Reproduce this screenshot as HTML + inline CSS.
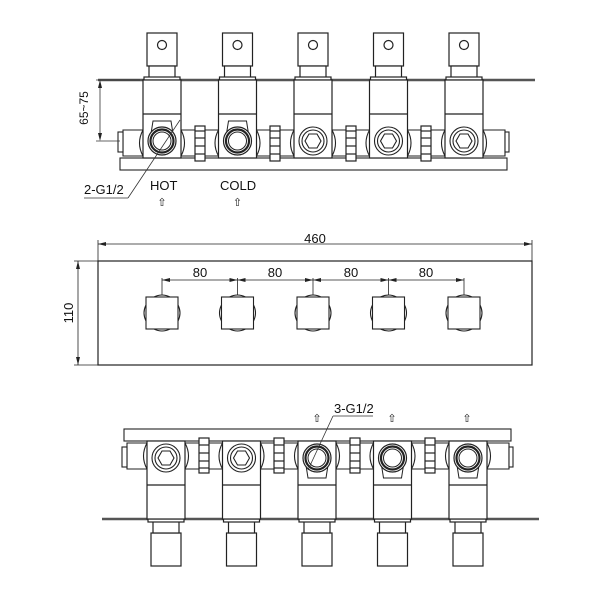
<!DOCTYPE html>
<html><head><meta charset="utf-8"><style>
body{margin:0;background:#fff}
svg{display:block}
text{font-family:"Liberation Sans",sans-serif;fill:#111}
</style></head><body>
<svg width="600" height="600" viewBox="0 0 600 600" xmlns="http://www.w3.org/2000/svg">
<defs>
<g id="valve" fill="#fff" stroke="#222" stroke-width="1.2">
  <rect x="-15" y="33" width="30" height="33"/>
  <rect x="-13" y="66" width="26" height="12"/>
  <rect x="-18" y="77" width="36" height="3"/>
  <rect x="-19" y="80" width="38" height="78"/>
  <line x1="-19" y1="114" x2="19" y2="114"/>
</g>
<circle id="hole" cx="0" cy="45" r="4.5" fill="#fff" stroke="#222" stroke-width="1.2"/>
<g id="nut" fill="#fff" stroke="#222" stroke-width="1.2">
  <rect x="-5" y="126" width="10" height="35"/>
  <line x1="-5" y1="131" x2="5" y2="131"/>
  <line x1="-5" y1="138" x2="5" y2="138"/>
  <line x1="-5" y1="146" x2="5" y2="146"/>
  <line x1="-5" y1="154" x2="5" y2="154"/>
</g>
<g id="ring" fill="#fff" stroke="#222">
  <path d="M-12 140 L-9 121 L9 121 L12 140" stroke-width="1"/>
  <circle cx="0" cy="141" r="14" stroke-width="1.2"/>
  <circle cx="0" cy="141" r="11.5" stroke-width="2.2"/>
  <circle cx="0" cy="141" r="9" stroke-width="1"/>
</g>
<g id="hex" fill="#fff" stroke="#222" stroke-width="1.1">
  <circle cx="0" cy="141" r="14"/>
  <circle cx="0" cy="141" r="11"/>
  <polygon points="-8,141 -4,134 4,134 8,141 4,148 -4,148"/>
</g>
<g id="assy">
  <g fill="#fff" stroke="#222" stroke-width="1.1">
    <path d="M123 130 L505 130 L505 156 L123 156 Z"/>
    <path d="M143 130 Q136 143 143 156 M181 130 Q188 143 181 156"/>
    <path d="M218.5 130 Q211.5 143 218.5 156 M256.5 130 Q263.5 143 256.5 156"/>
    <path d="M294 130 Q287 143 294 156 M332 130 Q339 143 332 156"/>
    <path d="M369.5 130 Q362.5 143 369.5 156 M407.5 130 Q414.5 143 407.5 156"/>
    <path d="M445 130 Q438 143 445 156 M483 130 Q490 143 483 156"/>
    <rect x="118" y="132" width="5" height="20"/>
    <rect x="505" y="132" width="4" height="20"/>
    <rect x="120" y="158" width="387" height="12"/>
    <line x1="98" y1="80" x2="535" y2="80" stroke-width="2.4" stroke="#555"/>
  </g>
  <use href="#valve" x="162"/><use href="#valve" x="237.5"/><use href="#valve" x="313"/><use href="#valve" x="388.5"/><use href="#valve" x="464"/>
  <use href="#nut" x="200"/><use href="#nut" x="275"/><use href="#nut" x="351"/><use href="#nut" x="426"/>
</g>
</defs>

<!-- TOP VIEW -->
<use href="#assy"/>
<use href="#hole" x="162"/><use href="#hole" x="237.5"/><use href="#hole" x="313"/><use href="#hole" x="388.5"/><use href="#hole" x="464"/>
<use href="#ring" x="162"/><use href="#ring" x="237.5"/>
<use href="#hex" x="313"/><use href="#hex" x="388.5"/><use href="#hex" x="464"/>

<g stroke="#333" stroke-width="0.8" fill="none">
  <line x1="96" y1="80" x2="140" y2="80"/>
  <line x1="96" y1="141" x2="120" y2="141"/>
  <line x1="100" y1="82" x2="100" y2="139"/>
  <line x1="84" y1="198" x2="128" y2="198"/>
  <line x1="128" y1="198" x2="180" y2="120"/>
</g>
<path d="M100 80 L98 88 L102 88 Z M100 141 L98 133 L102 133 Z" fill="#222"/>
<text x="88" y="108" font-size="12" transform="rotate(-90 88 108)" text-anchor="middle">65~75</text>
<text x="84" y="194" font-size="13">2-G1/2</text>
<text x="150" y="190" font-size="13">HOT</text>
<text x="220" y="190" font-size="13">COLD</text>
<text x="162" y="206" font-size="11" text-anchor="middle">⇧</text>
<text x="237.5" y="206" font-size="11" text-anchor="middle">⇧</text>

<!-- MIDDLE VIEW -->
<g stroke="#222" fill="none">
  <rect x="98" y="261" width="434" height="104" stroke-width="1.2"/>
  <line x1="98" y1="244" x2="532" y2="244" stroke-width="0.8"/>
  <line x1="98" y1="240" x2="98" y2="261" stroke-width="0.8"/>
  <line x1="532" y1="240" x2="532" y2="261" stroke-width="0.8"/>
  <line x1="78" y1="261" x2="78" y2="365" stroke-width="0.8"/>
  <line x1="74" y1="261" x2="98" y2="261" stroke-width="0.8"/>
  <line x1="74" y1="365" x2="98" y2="365" stroke-width="0.8"/>
  <line x1="162" y1="280" x2="464" y2="280" stroke-width="0.8"/>
  <g stroke-width="0.8">
    <line x1="162" y1="278" x2="162" y2="297"/><line x1="237.5" y1="278" x2="237.5" y2="297"/>
    <line x1="313" y1="278" x2="313" y2="297"/><line x1="388.5" y1="278" x2="388.5" y2="297"/>
    <line x1="464" y1="278" x2="464" y2="297"/>
  </g>
</g>
<path d="M98 244 l8 -2 v4 Z M532 244 l-8 -2 v4 Z M78 261 l-2 8 h4 Z M78 365 l-2 -8 h4 Z" fill="#222"/>
<g fill="#222">
  <path d="M162 280 l8 -2 v4Z M237.5 280 l-8 -2 v4Z M237.5 280 l8 -2 v4Z M313 280 l-8 -2 v4Z M313 280 l8 -2 v4Z M388.5 280 l-8 -2 v4Z M388.5 280 l8 -2 v4Z M464 280 l-8 -2 v4Z"/>
</g>
<text x="315" y="243" font-size="13" text-anchor="middle">460</text>
<text x="73" y="313" font-size="13" text-anchor="middle" transform="rotate(-90 73 313)">110</text>
<text x="200" y="277" font-size="13" text-anchor="middle">80</text>
<text x="275" y="277" font-size="13" text-anchor="middle">80</text>
<text x="351" y="277" font-size="13" text-anchor="middle">80</text>
<text x="426" y="277" font-size="13" text-anchor="middle">80</text>
<g fill="#fff" stroke="#222" stroke-width="1.1">
  <g id="knob">
    <path d="M154 297 Q162 293 170 297 M154 329 Q162 333 170 329 M146 305 Q142 313 146 321 M178 305 Q182 313 178 321"/>
    <rect x="146" y="297" width="32" height="32"/>
  </g>
  <use href="#knob" x="75.5"/><use href="#knob" x="151"/><use href="#knob" x="226.5"/><use href="#knob" x="302"/>
</g>

<!-- BOTTOM VIEW -->
<g transform="translate(4,599) scale(1,-1)">
  <use href="#assy"/>
  <use href="#hex" x="162"/><use href="#hex" x="237.5"/>
  <use href="#ring" x="313"/><use href="#ring" x="388.5"/><use href="#ring" x="464"/>
</g>
<line x1="308" y1="470" x2="333" y2="416" stroke="#333" stroke-width="0.8"/>
<line x1="333" y1="416" x2="373" y2="416" stroke="#333" stroke-width="0.8"/>
<text x="334" y="413" font-size="13">3-G1/2</text>
<text x="317" y="422" font-size="11" text-anchor="middle">⇧</text>
<text x="392" y="422" font-size="11" text-anchor="middle">⇧</text>
<text x="467" y="422" font-size="11" text-anchor="middle">⇧</text>
</svg>
</body></html>
